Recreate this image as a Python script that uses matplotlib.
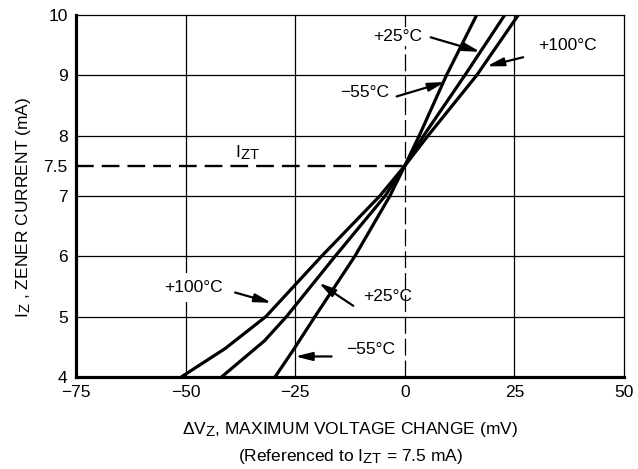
import matplotlib
matplotlib.use('Agg')
import matplotlib.pyplot as plt
import matplotlib._mathtext as mathtext_mod

plt.rcParams['font.family'] = ['Liberation Sans', 'DejaVu Sans']
plt.rcParams['mathtext.fontset'] = 'custom'
plt.rcParams['mathtext.rm'] = 'Liberation Sans'
plt.rcParams['mathtext.it'] = 'Liberation Sans'
# subscripts in the original are nearly full size
mathtext_mod.SHRINK_FACTOR = 0.85

# zener current (mA) vs. voltage change (mV)
iz_100 = [4, 4.47, 5, 6, 7, 7.5, 8, 9, 10]
dv_100 = [-51, -41, -31.7, -19, -5.7, 0, 5.3, 16.4, 25.9]
iz_25 = [4, 4.6, 5, 6, 7, 7.5, 8, 9, 10]
dv_25 = [-41.8, -32, -27, -15.9, -4.5, 0, 4.3, 13.7, 22.8]
iz_m55 = [4, 4.45, 5, 6, 7, 7.5, 8, 9, 10]
dv_m55 = [-29.6, -25.4, -20.5, -11.4, -3.4, 0, 3.3, 9.5, 16.4]

x_ticks = [-75, -50, -25, 0, 25, 50]
x_tick_labels = ['\u221275', '\u221250', '\u221225', '0', '25', '50']
y_ticks = [4, 5, 6, 7, 7.5, 8, 9, 10]
y_tick_labels = ['4', '5', '6', '7', '7.5', '8', '9', '10']
izt = 7.5

fig = plt.figure(figsize=(6.38, 4.69), dpi=100)
ax = fig.add_axes([0.1191, 0.1962, 0.8589, 0.7718])
ax.set_xlim(-75, 50)
ax.set_ylim(4, 10)

# grid
for gx in [-50, -25, 25]:
    ax.axvline(gx, color='black', lw=0.9, zorder=1)
for gy in [5, 6, 7, 8, 9]:
    ax.axhline(gy, color='black', lw=0.9, zorder=1)
ax.axvline(0, color='black', lw=0.9, dashes=(13.5, 4), zorder=1)
ax.plot([-75, 0], [izt, izt], color='black', lw=1.7, dashes=(7.5, 3.4), zorder=2)

lw = 2.3
ax.plot(dv_100, iz_100, color='black', lw=lw, solid_capstyle='butt', zorder=3)
ax.plot(dv_25, iz_25, color='black', lw=lw, solid_capstyle='butt', zorder=3)
ax.plot(dv_m55, iz_m55, color='black', lw=lw, solid_capstyle='butt', zorder=3)

box = dict(fc='white', ec='none', pad=1.5)
fs = 12.5
ax.text(-1.55, 9.65, '+25°C', ha='center', va='center', fontsize=fs, bbox=box, zorder=4)
ax.text(37.0, 9.50, '+100°C', ha='center', va='center', fontsize=fs, bbox=box, zorder=4)
ax.text(-9.1, 8.72, '\u221255°C', ha='center', va='center', fontsize=fs, bbox=box, zorder=4)
ax.text(-48.3, 5.49, '+100°C', ha='center', va='center', fontsize=fs,
        bbox=dict(fc='white', ec='none', pad=5), zorder=4)
ax.text(-3.8, 5.34, '+25°C', ha='center', va='center', fontsize=fs, zorder=4)
ax.text(-7.9, 4.45, '\u221255°C', ha='center', va='center', fontsize=fs, zorder=4)
ax.text(-35.8, 7.56, r'$\mathregular{I_{ZT}}$', ha='center', va='bottom', fontsize=fs, zorder=4)

arrows = [((5.9, 9.63), (17.2, 9.39)),
          ((27.0, 9.30), (18.7, 9.15)),
          ((-1.85, 8.65), (9.2, 8.89)),
          ((-38.7, 5.40), (-30.4, 5.23)),
          ((-11.75, 5.18), (-19.6, 5.56)),
          ((-16.7, 4.34), (-25.0, 4.34))]
for tail, tip in arrows:
    ax.annotate('', xy=tip, xytext=tail, zorder=5,
                arrowprops=dict(arrowstyle='-|>,head_length=1.0,head_width=0.25',
                                color='black', lw=1.6, shrinkA=0, shrinkB=0))

ax.set_xticks(x_ticks)
ax.set_xticklabels(x_tick_labels)
ax.set_yticks(y_ticks)
ax.set_yticklabels(y_tick_labels)
ax.tick_params(length=0, labelsize=fs, pad=6)
for s in ['left', 'bottom']:
    ax.spines[s].set_linewidth(2.3)
for s in ['top', 'right']:
    ax.spines[s].set_linewidth(0.9)

ax.set_xlabel('\u0394V$\\mathregular{_Z}$, MAXIMUM VOLTAGE CHANGE (mV)\n'
              '(Referenced to I$\\mathregular{_{ZT}}$ = 7.5 mA)', fontsize=fs, labelpad=14,
              linespacing=1.6)
ax.set_ylabel('I$\\mathregular{_Z}$ , ZENER CURRENT (mA)', fontsize=fs)
ax.yaxis.set_label_coords(-0.078, 0.467)

fig.savefig('out.png', dpi=100)
